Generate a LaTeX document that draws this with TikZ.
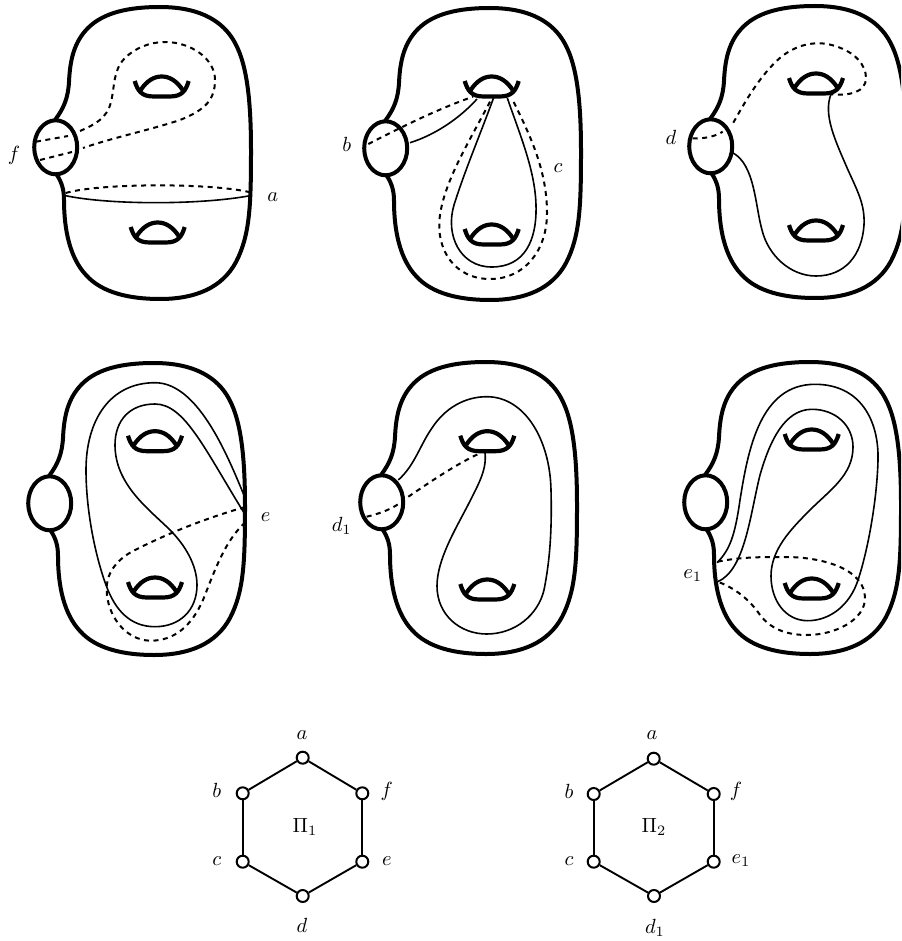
\documentclass[tikz,border=0pt]{standalone}
\tikzset{
  base/.style={x=1pt,y=-1pt},
  outline/.style={line width=4pt,line cap=butt},
  holeline/.style={line width=4.2pt},
  curve/.style={line width=1.6pt},
  dashcurve/.style={line width=2pt,dash pattern=on 5pt off 4.5pt},
  lab/.style={inner sep=0pt,scale=2.05},
  vertexnode/.style={circle,draw,fill=white,line width=2pt,minimum size=12pt,inner sep=0pt},
  edgeline/.style={line width=1.9pt},
}
\newcommand{\surfacebody}[2]{%
  \begin{scope}[shift={(#1,#2)}]
    \draw[outline] (55,120) .. controls (64,108) and (68,98) .. (69,82)
      .. controls (70,60) and (74,42) .. (88,28)
      .. controls (104,12) and (130,7) .. (160,7)
      .. controls (190,7) and (215,15) .. (230,35)
      .. controls (245,55) and (251,90) .. (251,150)
      .. controls (251,205) and (250,235) .. (236,262)
      .. controls (222,288) and (195,299) .. (160,299)
      .. controls (130,299) and (102,293) .. (86,275)
      .. controls (70,258) and (64,230) .. (64,200)
      .. controls (64,190) and (62,183) .. (57,175);
    \draw[outline] (55.7,147.3) ellipse [x radius=21.5,y radius=27];
  \end{scope}}
\newcommand{\handle}[2]{%
  \begin{scope}[shift={(#1,#2)}]
    \draw[holeline] (-27,-6) .. controls (-24,4) and (-20,9.5) .. (-8,9.5) -- (8,9.5) .. controls (20,9.5) and (24,4) .. (27,-6);
    \draw[holeline] (-21,3) .. controls (-15,-6) and (-8,-10.5) .. (0,-10.5) .. controls (8,-10.5) and (15,-6) .. (21,3);
  \end{scope}}
\begin{document}
\begin{tikzpicture}[base]
\useasboundingbox (0,0) rectangle (901,941);
\clip (0,0) rectangle (901,941);
% Surface 1
\surfacebody{0}{0}
\handle{161.7}{87}\handle{157.7}{233}
\draw[dashcurve] (36,141.7) -- (68,136);
\draw[dashcurve] (80,131) .. controls (96,124) and (107,118) .. (111,102) .. controls (115,85) and (113,70) .. (125,58) .. controls (135,48) and (150,42) .. (165,42) .. controls (190,42) and (215,58) .. (215,80) .. controls (215,100) and (205,110) .. (180,120) .. controls (150,130) and (115,137) .. (83,148);
\draw[dashcurve] (40,160) -- (72,152);
\draw[curve] (65.7,195.7) .. controls (110,205) and (200,205) .. (250,195.7);
\draw[dashcurve] (65.7,193) .. controls (100,183) and (210,183) .. (249,192);
\node[lab] (lf) at (14,155) {$f$};
\node[lab] (la) at (272.7,196.7) {$a$};
% Surface 2
\surfacebody{330}{1}
\handle{491.7}{87}\handle{491.7}{235}
\draw[dashcurve] (368.3,144) .. controls (400,128) and (435,110) .. (473,96.7);
\draw[curve] (410,142.7) .. controls (435,135) and (460,118) .. (477,99);
\draw[curve] (494,96.7) .. controls (480,135) and (465,170) .. (454,205) .. controls (445,235) and (460,267) .. (491.7,267) .. controls (525,267) and (537,240) .. (536,205) .. controls (535,170) and (520,135) .. (507.3,98);
\draw[dashcurve] (490,101.7) .. controls (470,140) and (445,180) .. (440,215) .. controls (435,250) and (455,279) .. (490,279) .. controls (525,279) and (547,250) .. (547,213) .. controls (547,170) and (530,135) .. (511.7,98);
\node[lab] (lb) at (346.7,144) {$b$};
\node[lab] (lc) at (558,168) {$c$};
% Surface 3
\surfacebody{655}{-1}
\handle{816}{84}\handle{816}{231}
\draw[dashcurve] (692.7,138.3) .. controls (705,139) and (716,136) .. (722.7,131.7);
\draw[dashcurve] (733.3,122.7) .. controls (745,102) and (760,75) .. (781,57) .. controls (800,42) and (820,41) .. (835,46) .. controls (855,52) and (866,65) .. (866,78) .. controls (866,92) and (850,96) .. (831,94.3);
\draw[curve] (831,94) .. controls (823,115) and (835,140) .. (848,170) .. controls (858,192) and (865,205) .. (864,225) .. controls (862,255) and (845,276) .. (816,276) .. controls (790,276) and (768,255) .. (762,230) .. controls (755,205) and (755,165) .. (732.7,152.7);
\node[lab] (ld) at (671,137) {$d$};
% Surface 4
\surfacebody{-6}{356}
\handle{155}{441.7}\handle{155}{588}
\draw[curve] (246,500) .. controls (230,462) and (200,382.7) .. (155,382.7) .. controls (110,382.7) and (86,420) .. (86,470) .. controls (86,510) and (95,555) .. (106,585) .. controls (115,610) and (130,626.7) .. (155,626.7) .. controls (180,626.7) and (197,610) .. (197,585) .. controls (197,565) and (185,545) .. (170,530) .. controls (150,510) and (115,485) .. (115,445) .. controls (115,420) and (130,404) .. (155,404) .. controls (185,404) and (205,450) .. (246,516);
\draw[dashcurve] (245,507) .. controls (200,520) and (165,535) .. (135,550) .. controls (115,560) and (106,575) .. (106.7,590) .. controls (107,615) and (125,640) .. (150,640.7) .. controls (175,641) and (192,625) .. (203,600) .. controls (215,570) and (225,540) .. (246.7,521);
\node[lab] (le) at (265.7,517) {$e$};
% Surface 5
\surfacebody{326}{355}
\handle{487.3}{441.7}\handle{487.3}{590}
\draw[dashcurve] (366.7,516.7) .. controls (378,514) and (390,510) .. (400,503);
\draw[dashcurve] (408.3,496.7) .. controls (430,482) and (455,465) .. (478.3,454);
\draw[curve] (398.3,480) .. controls (415,465) and (420,445) .. (432,428) .. controls (445,408) and (465,396.7) .. (486.7,396.7) .. controls (525,396.7) and (550,440) .. (551,490) .. controls (552,530) and (550,560) .. (544,590) .. controls (538,615) and (515,634) .. (486.7,634) .. controls (460,634) and (437,615) .. (437,586) .. controls (437,560) and (455,530) .. (468,505) .. controls (478,485) and (487,470) .. (485,453);
\node[lab] (ldone) at (341.7,525.7) {$d_1$};
% Surface 6
\surfacebody{650}{355}
\handle{811.7}{440}\handle{811.7}{589}
\draw[curve] (717,562.7) .. controls (730,550) and (735,535) .. (740,500) .. controls (748,450) and (760,384.3) .. (815,384.3) .. controls (860,384.3) and (879,420) .. (878,460) .. controls (877,500) and (868,550) .. (858,580) .. controls (850,605) and (830,620.7) .. (807.7,620.7) .. controls (785,620.7) and (771,600) .. (771,576) .. controls (771,550) and (790,530) .. (810,510) .. controls (830,490) and (853,475) .. (853,447) .. controls (853,425) and (835,409.3) .. (812,409.3) .. controls (785,409.3) and (770,440) .. (760,475) .. controls (750,515) and (745,570) .. (717.7,581.7);
\draw[dashcurve] (717.7,561.7) .. controls (740,557) and (760,557) .. (785,557) .. controls (825,557) and (865,570) .. (865,598) .. controls (865,620) and (835,635) .. (807,635) .. controls (785,635) and (770,628) .. (760,615) .. controls (750,600) and (735,588) .. (717.7,581.7);
\node[lab] (leone) at (692.7,576) {$e_1$};
% Hexagon 1
\foreach \nm/\xx/\yy in {ha/302.7/757.7,hf/362.3/793.3,he/362.3/861.7,hd/302.7/896,hc/242.7/861.7,hb/242.7/793.3}{
  \node[vertexnode] (\nm) at (\xx,\yy) {};}
\draw[edgeline] (ha)--(hf); \draw[edgeline] (hf)--(he); \draw[edgeline] (he)--(hd);
\draw[edgeline] (hd)--(hc); \draw[edgeline] (hc)--(hb); \draw[edgeline] (hb)--(ha);
\node[lab] at (302,735) {$a$};
\node[lab] at (216.7,790) {$b$};
\node[lab] at (386.7,791.7) {$f$};
\node[lab] at (387,861) {$e$};
\node[lab] at (216.7,861) {$c$};
\node[lab] at (302,925) {$d$};
\node[lab] at (305,826.7) {$\Pi_1$};
% Hexagon 2
\foreach \nm/\xx/\yy in {ka/653.7/758.7,kf/713.7/794,ke/713.7/861.7,kd/654/896,kc/593.7/861.7,kb/593.7/794}{
  \node[vertexnode] (\nm) at (\xx,\yy) {};}
\draw[edgeline] (ka)--(kf); \draw[edgeline] (kf)--(ke); \draw[edgeline] (ke)--(kd);
\draw[edgeline] (kd)--(kc); \draw[edgeline] (kc)--(kb); \draw[edgeline] (kb)--(ka);
\node[lab] at (652,735) {$a$};
\node[lab] at (569,791) {$b$};
\node[lab] at (736,791.7) {$f$};
\node[lab] at (741,861) {$e_1$};
\node[lab] at (569,861) {$c$};
\node[lab] at (655,928) {$d_1$};
\node[lab] at (654,827) {$\Pi_2$};
\end{tikzpicture}
\end{document}
